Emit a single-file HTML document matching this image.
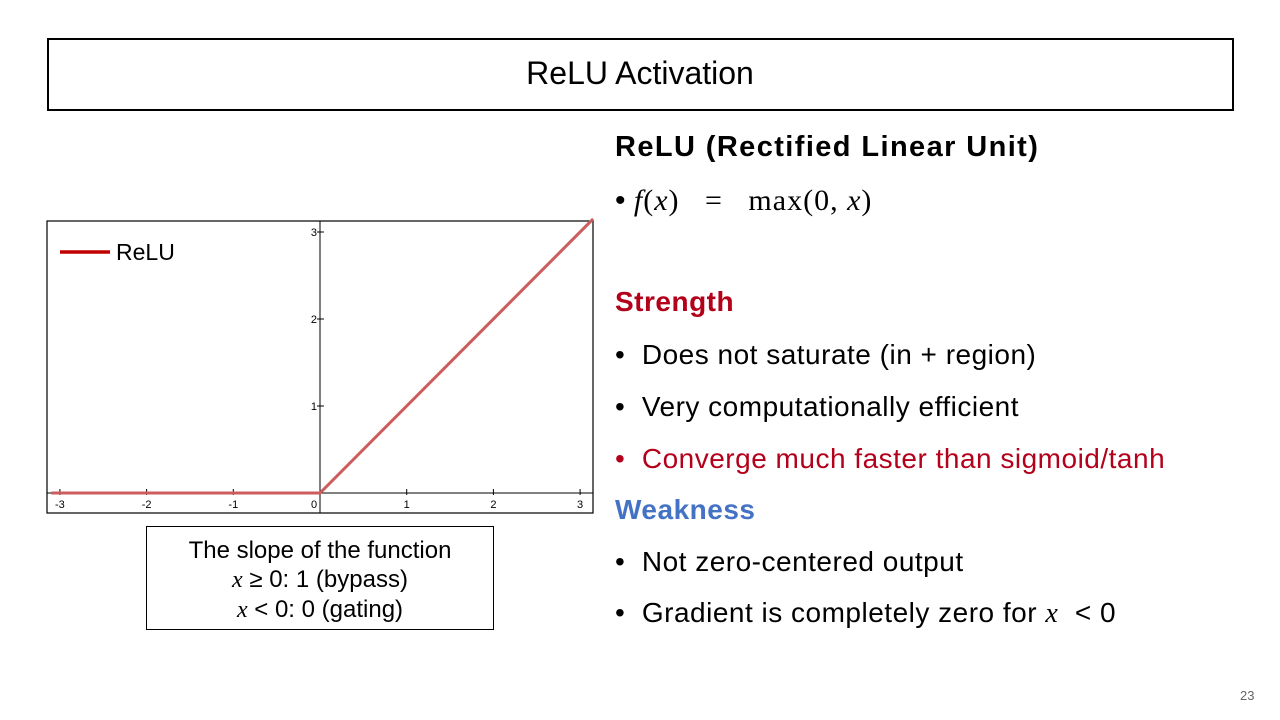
<!DOCTYPE html>
<html><head><meta charset="utf-8"><style>
body{margin:0;width:1280px;height:720px;background:#fff;position:relative;font-family:"Liberation Sans",sans-serif;overflow:hidden}
.t{position:absolute;white-space:nowrap}
.m{font-family:"Liberation Serif",serif;font-style:italic}
.b{letter-spacing:0.5px}
</style></head><body>
<div style="position:absolute;left:47px;top:38px;width:1183px;height:69px;border:2px solid #000"></div>
<div class="t" style="left:0;width:1280px;text-align:center;top:55px;font-size:32px">ReLU Activation</div>

<svg style="position:absolute;left:0;top:0" width="1280" height="720" id="ch">
<rect x="47" y="221" width="546" height="292" fill="#fff" stroke="#000" stroke-width="1.2"/>
</svg>

<div style="position:absolute;left:146px;top:526px;width:346px;height:102px;border:1.5px solid #000"></div>
<div class="t" style="left:146px;width:348px;top:536px;text-align:center;font-size:24px;line-height:29px">The slope of the function<br><span class="m">x</span> ≥ 0: 1 (bypass)<br><span class="m">x</span> &lt; 0: 0 (gating)</div>

<div class="t" style="left:615px;top:131px;font-size:29px;font-weight:bold;letter-spacing:1.4px">ReLU (Rectified Linear Unit)</div>
<div class="t" style="left:615px;top:184px;font-size:30px">• <span style="font-family:'Liberation Serif',serif;letter-spacing:1px"><i>f</i>(<i>x</i>) &nbsp;&nbsp;= &nbsp;&nbsp;max(0, <i>x</i>)</span></div>
<div class="t" style="left:615px;top:286px;font-size:28px;font-weight:bold;color:#b3001b;letter-spacing:0.5px">Strength</div>
<div class="t b" style="left:615px;top:339px;font-size:28px">• &nbsp;Does not saturate (in + region)</div>
<div class="t b" style="left:615px;top:391px;font-size:28px">• &nbsp;Very computationally efficient</div>
<div class="t b" style="left:615px;top:443px;font-size:28px;color:#b3001b">• &nbsp;Converge much faster than sigmoid/tanh</div>
<div class="t" style="left:615px;top:494px;font-size:28px;font-weight:bold;color:#4472c4;letter-spacing:0.5px">Weakness</div>
<div class="t b" style="left:615px;top:546px;font-size:28px">• &nbsp;Not zero-centered output</div>
<div class="t b" style="left:615px;top:597px;font-size:28px">• &nbsp;Gradient is completely zero for <span class="m">x</span> &nbsp;&lt; 0</div>
<div class="t" style="left:1240px;top:688px;font-size:13px;color:#666">23</div>

<script>
const xTicks=[-3,-2,-1,0,1,2,3];
const yTicks=[1,2,3];
const xs=[-3.15,0,3.15];
const ys=[0,0,3.15];
const X=v=>320+v*86.7, Y=v=>493-v*87;
const s=document.getElementById('ch'),N='http://www.w3.org/2000/svg';
function el(t,a){const e=document.createElementNS(N,t);for(const k in a)e.setAttribute(k,a[k]);s.appendChild(e);return e;}
let ax=el('line',{x1:47,x2:593,y1:Y(0),y2:Y(0),stroke:'#000','stroke-width':1});


let ay=el('line',{x1:X(0),x2:X(0),y1:221,y2:513,stroke:'#000','stroke-width':1});


xTicks.forEach(v=>{
 let l=el('line',{x1:X(v),x2:X(v),y1:Y(0)-4,y2:Y(0)+2,stroke:'#000'});
 
 
 let t=el('text',{x:X(v)-(v===0?6:0),y:Y(0)+15,'font-size':11,'text-anchor':'middle','font-family':'Liberation Sans'});
 t.textContent=v;
 
 
});
yTicks.forEach(v=>{
 let l=el('line',{x1:X(0)-3,x2:X(0)+4,y1:Y(v),y2:Y(v),stroke:'#000'});
 
 
 let t=el('text',{x:X(0)-3,y:Y(v)+4,'font-size':11,'text-anchor':'end','font-family':'Liberation Sans'});
 t.textContent=v;
 
 
});
let p=el('polyline',{points:xs.map((x,i)=>X(Math.max(x,-3.1))+','+Y(ys[i])).join(' '),fill:'none',stroke:'#cd5c5c','stroke-width':3});


let ll=el('line',{x1:60,x2:110,y1:252,y2:252,stroke:'#c00000','stroke-width':3.5});


let lt=el('text',{x:116,y:260,'font-size':23,'font-family':'Liberation Sans'});
lt.textContent='ReLU';


</script>
</body></html>
